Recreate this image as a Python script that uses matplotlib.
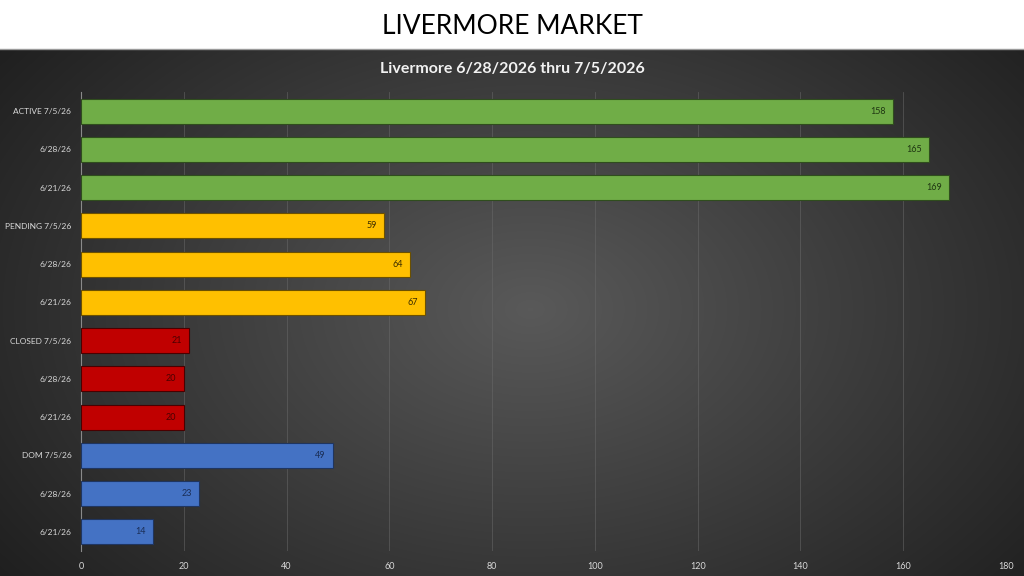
import numpy as np
import matplotlib
matplotlib.use("Agg")
import matplotlib.pyplot as plt

plt.rcParams['font.family'] = ['Lato', 'DejaVu Sans']

categories = ["ACTIVE 7/5/26", "6/28/26", "6/21/26",
              "PENDING 7/5/26", "6/28/26", "6/21/26",
              "CLOSED 7/5/26", "6/28/26", "6/21/26",
              "DOM 7/5/26", "6/28/26", "6/21/26"]
values = [158, 165, 169, 59, 64, 67, 21, 20, 20, 49, 23, 14]
groups = ["active"] * 3 + ["pending"] * 3 + ["closed"] * 3 + ["dom"] * 3
xticks = [0, 20, 40, 60, 80, 100, 120, 140, 160, 180]

bar_colors = {"active": "#70AD47", "pending": "#FFC000", "closed": "#C00000", "dom": "#4472C4"}
edge_colors = {"active": "#2f4d1d", "pending": "#6b5000", "closed": "#4a0000", "dom": "#1f3560"}
label_colors = {"active": "#1f3612", "pending": "#3a2c00", "closed": "#4a0000", "dom": "#1a2d55"}

W, H = 1024, 576
fig = plt.figure(figsize=(W / 100, H / 100), dpi=100)
fig.patch.set_facecolor("white")

# dark gradient background
bg = fig.add_axes([0, 0, 1, (576 - 49) / 576])
yy, xx = np.mgrid[0:527, 0:1024]
cx, cy = 530, 260
r = np.sqrt(((xx - cx) / 640) ** 2 + ((yy - cy) / 430) ** 2)
val = np.clip(0.35 - 0.22 * r, 0.12, 0.35)
img = np.dstack([val, val, val])
bg.imshow(img, aspect="auto", extent=[0, 1, 0, 1], origin="upper")
bg.axis("off")

# thin separator
fig.add_artist(plt.Line2D([0, 1], [(576 - 48.5) / 576] * 2, color="#9a9a9a", lw=1))

fig.text(0.5, 1 - 27 / 576, "LIVERMORE MARKET", ha="center", va="center",
         fontsize=19, color="black")
fig.text(0.5, 1 - 69 / 576, "Livermore 6/28/2026 thru 7/5/2026", ha="center", va="center",
         fontsize=11.5, color="#f2f2f2", fontweight="bold")

ax = fig.add_axes([81 / 1024, 25 / 576, 925 / 1024, (551 - 92) / 576])
ax.set_facecolor("none")
n = len(values)
ypos = np.arange(n)
cols = [bar_colors[g] for g in groups]
edges = [edge_colors[g] for g in groups]
ax.barh(ypos, values, height=0.66, color=cols, edgecolor=edges, linewidth=0.8, zorder=3)
for y, v, g in zip(ypos, values, groups):
    ax.text(v - 1.4, y, str(v), ha="right", va="center", fontsize=6.5,
            color=label_colors[g], zorder=4)

ax.set_ylim(n - 0.5, -0.5)
ax.set_xlim(0, 180)
ax.set_yticks(ypos)
ax.set_yticklabels(categories, fontsize=6)
ax.set_xticks(xticks)
ax.tick_params(axis="both", length=0, colors="#d9d9d9", labelsize=6.5)
ax.tick_params(axis="y", pad=7, labelsize=6)
ax.tick_params(axis="x", pad=8)
ax.grid(axis="x", color="#6a6a6a", lw=0.6, alpha=0.6, zorder=0)
for s in ["top", "right", "bottom"]:
    ax.spines[s].set_visible(False)
ax.spines["left"].set_color("#8a8a8a")
ax.spines["left"].set_linewidth(0.8)

fig.savefig("out.png", dpi=100, facecolor=fig.get_facecolor())
